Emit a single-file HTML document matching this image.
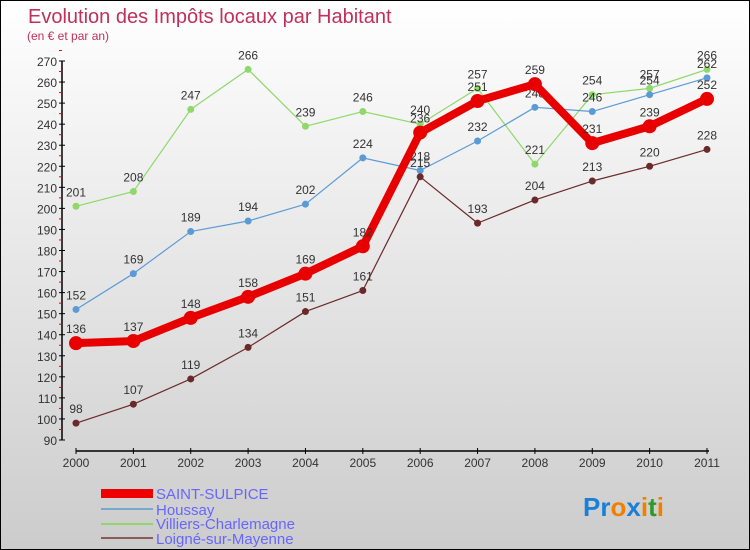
<!DOCTYPE html>
<html><head><meta charset="utf-8"><style>
body{margin:0}
#c{width:748px;height:548px;border:1px solid #000;background:linear-gradient(#fff,#ccc);position:relative;font-family:"Liberation Sans",sans-serif}
svg{position:absolute;left:0;top:0}
</style></head><body>
<div id="c">
<svg id="s" width="748" height="548" xmlns="http://www.w3.org/2000/svg">
<text x="27" y="22" font-size="20" fill="#c0305a">Evolution des Impôts locaux par Habitant</text>
<text x="26" y="39" font-size="12" fill="#c0305a">(en € et par an)</text>
<g id="axes"></g><g id="series"></g>
<g id="legend" font-size="15" fill="#6666ff">
<rect x="100" y="488" width="52" height="9" fill="#e00"/>
<text x="155" y="498">SAINT-SULPICE</text>
<rect x="100" y="507" width="52" height="2" fill="#7aa7d0"/>
<text x="155" y="514">Houssay</text>
<rect x="100" y="522" width="52" height="2" fill="#8fd86a"/>
<text x="155" y="528">Villiers-Charlemagne</text>
<rect x="100" y="536" width="52" height="2" fill="#8b5a5a"/>
<text x="155" y="543">Loigné-sur-Mayenne</text>
</g>
<text x="582" y="515" font-size="26" font-weight="bold"><tspan fill="#1a7fd6">Pr</tspan><tspan fill="#f08000">o</tspan><tspan fill="#1a7fd6">x</tspan><tspan fill="#f08000">i</tspan><tspan fill="#2a9a2a">t</tspan><tspan fill="#f08000">i</tspan></text>
</svg></div>
<script>
const years=["2000","2001","2002","2003","2004","2005","2006","2007","2008","2009","2010","2011"];
const yTicks=[90,100,110,120,130,140,150,160,170,180,190,200,210,220,230,240,250,260,270];
const saintSulpice=[136,137,148,158,169,182,236,251,259,231,239,252];
const houssay=[152,169,189,194,202,224,218,232,248,246,254,262];
const villiers=[201,208,247,266,239,246,240,257,221,254,257,266];
const loigne=[98,107,119,134,151,161,215,193,204,213,220,228];
const NS="http://www.w3.org/2000/svg";
const X=i=>75+i*(706-75)/11;
const Y=v=>439-(v-90)*(379/180);
function mk(tag,attrs,parent){const e=document.createElementNS(NS,tag);for(const k in attrs)e.setAttribute(k,attrs[k]);parent.appendChild(e);return e;}
const ax=document.getElementById('axes');
let a=mk('line',{x1:61,y1:Y(270),x2:61,y2:Y(90),stroke:'#000','stroke-width':1.5},ax);


yTicks.forEach(v=>{
 let t=mk('line',{x1:58,x2:64,y1:Y(v),y2:Y(v),stroke:'#000'},ax);
 
 
 let m=mk('line',{x1:58,x2:61,y1:Y(v+5),y2:Y(v+5),stroke:'#e00'},ax);
 
 
 let l=mk('text',{x:56,y:Y(v)+5,'text-anchor':'end','font-size':12,fill:'#333'},ax);l.textContent=v;
 
 
});
a=mk('line',{x1:75,y1:450,x2:708,y2:450,stroke:'#000','stroke-width':1.5},ax);


years.forEach((y,i)=>{
 let t=mk('line',{x1:X(i),x2:X(i),y1:447,y2:453,stroke:'#000'},ax);
 
 
 let l=mk('text',{x:X(i),y:466,'text-anchor':'middle','font-size':12,fill:'#333'},ax);l.textContent=y;
 
 
});
const sg=document.getElementById('series');
function draw(data,color,w,r,name){
 const g=mk('g',{},sg);
 
 
 const p=mk('polyline',{points:data.map((v,i)=>X(i)+','+Y(v)).join(' '),fill:'none',stroke:color,'stroke-width':w,'stroke-linejoin':'round'},g);
 
 
 data.forEach((v,i)=>{
  const c=mk('circle',{cx:X(i),cy:Y(v),r:r,fill:color},g);
  
  
  const t=mk('text',{x:X(i),y:Y(v)-10,'text-anchor':'middle','font-size':12,fill:'#333'},g);t.textContent=v;
  
  
 });
}
draw(villiers,'#8fd86a',1.2,3.5,'villiers');
draw(houssay,'#5b9bd5',1.2,3.5,'houssay');
draw(loigne,'#6b2a2a',1.2,3.5,'loigne');
draw(saintSulpice,'#e80000',8,7,'saint-sulpice');
</script></body></html>
